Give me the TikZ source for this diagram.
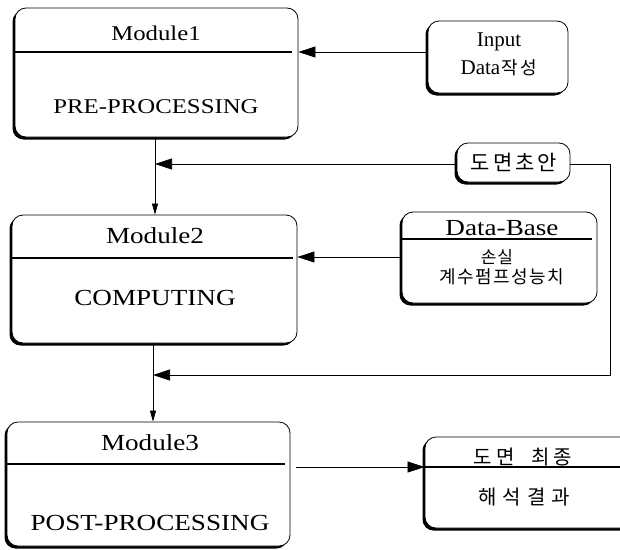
\documentclass[tikz,border=0pt]{standalone}
\usepackage{fontspec}
\setmainfont{Liberation Serif}
\newfontfamily\wide[FakeStretch=1.18]{Liberation Serif}
\newfontfamily\kr{Noto Sans CJK KR}
\newcommand\gp[1]{\hspace{#1pt}}
\usetikzlibrary{arrows.meta,shadows}
\begin{document}
\begin{tikzpicture}[x=1pt,y=-1pt,
  box/.style={draw=black, line width=0.8pt, fill=white, rounded corners=11pt, inner sep=0pt,
    general shadow={shadow xshift=-2.5pt, shadow yshift=-2.5pt, fill=black}},
  lbl/.style={inner sep=0pt, text=black},
  divider/.style={line width=1.5pt},
  conn/.style={line width=0.7pt},
  big/.style={conn, -{Triangle[length=17pt,width=11pt]}},
  small/.style={conn, -{Triangle[length=11pt,width=6pt]}},
  modfont/.style={font=\wide\fontsize{21}{24}\selectfont},
  bigfont/.style={font=\wide\fontsize{23}{26}\selectfont},
]
\useasboundingbox (0,0) rectangle (620,549);

% boxes
\node[box, minimum width=283pt, minimum height=129pt] (m1) at (156.5,72.5) {};
\node[box, minimum width=140pt, minimum height=72pt] (inp) at (498,57) {};
\node[box, minimum width=113pt, minimum height=39pt] (d0) at (513.5,162.5) {};
\node[box, minimum width=285pt, minimum height=128pt] (m2) at (154.5,279) {};
\node[box, minimum width=195pt, minimum height=91pt] (db) at (499.5,257.5) {};
\node[box, minimum width=283pt, minimum height=124pt] (m3) at (148.5,484) {};
\node[box, minimum width=215pt, minimum height=91pt] (fin) at (532.5,482.5) {};

% dividers
\draw[divider] (15,52) -- (292,52);
\draw[divider] (12,258) -- (293,258);
\draw[divider] (7,464) -- (285,464);
\draw[divider] (402,239) -- (592,239);
\draw[divider] (425,467) -- (620,467);

% texts
\node[lbl, modfont] (m1a) at (156,33) {Module1};
\node[lbl, modfont] (m1b) at (156,107) {PRE-PROCESSING};
\node[lbl, bigfont] (m2a) at (155,236) {Module2};
\node[lbl, bigfont] (m2b) at (155,298) {COMPUTING};
\node[lbl, bigfont] (m3a) at (150,443) {Module3};
\node[lbl, bigfont] (m3b) at (150,523) {POST-PROCESSING};
\node[lbl, font=\fontsize{21}{22}\selectfont] (ina) at (499,42) {Input};
\node[lbl, font=\fontsize{21}{22}\selectfont] (inb) at (499,68) {Data{\kr\fontsize{18}{20}\selectfont\gp{1}작\gp{3}성}};
\node[lbl, font=\kr\fontsize{21}{22}\selectfont] (d0t) at (514,162) {도\gp{3}면\gp{3}초\gp{3}안};
\node[lbl, font=\wide\fontsize{23}{26}\selectfont] (dba) at (502,228) {Data-Base};
\node[lbl, font=\kr\fontsize{17}{20}\selectfont] (dbb) at (497,257) {손\gp{1}실};
\node[lbl, font=\kr\fontsize{18}{20}\selectfont] (dbc) at (502,277) {계\gp{1.5}수\gp{1.5}펌\gp{1.5}프\gp{1.5}성\gp{1.5}능\gp{1.5}치};
\node[lbl, font=\kr\fontsize{20}{22}\selectfont] (fina) at (523,457) {도\gp{4}면\gp{17}최\gp{4}종};
\node[lbl, font=\kr\fontsize{20}{22}\selectfont] (finb) at (524,497) {해\gp{6}석\gp{6}결\gp{6}과};

% routing coordinates
\coordinate (colA) at (155,0);
\coordinate (colB) at (153,0);
\coordinate (r1) at (0,52);
\coordinate (r2) at (0,164);
\coordinate (r3) at (0,257);
\coordinate (r4) at (0,375);
\coordinate (r5) at (0,467);
\coordinate (rx) at (610,0);

% connectors
\draw[big] (inp.west |- r1) -- (m1.east |- r1);
\draw[small] (colA |- m1.south) -- (colA |- m2.north);
\draw[big] (d0.west |- r2) -- (colA |- r2);
\draw[big] (d0.east |- r2) -- (rx |- r2) -- (rx |- r4) -- (colB |- r4);
\draw[big] (db.west |- r3) -- (m2.east |- r3);
\draw[small] (colB |- m2.south) -- (colB |- m3.north);
\draw[big] ([xshift=6pt]m3.east |- r5) -- (fin.west |- r5);
\end{tikzpicture}
\end{document}
